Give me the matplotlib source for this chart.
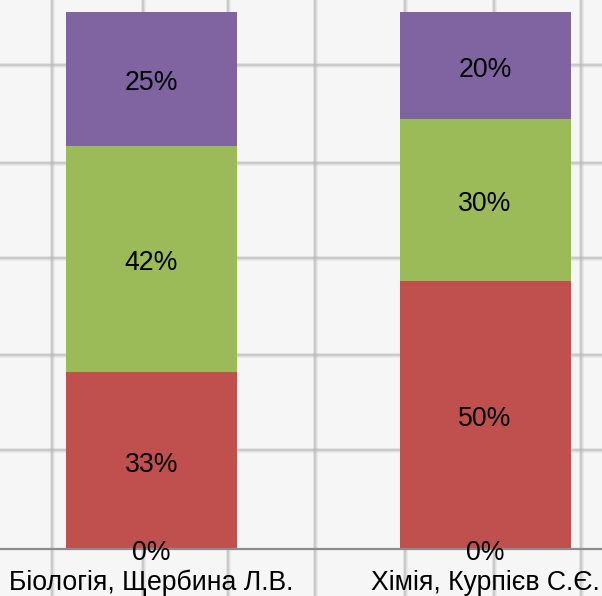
import matplotlib
matplotlib.use("Agg")
import matplotlib.pyplot as plt
from matplotlib.lines import Line2D
import numpy as np

categories = ["Біологія, Щербина Л.В.", "Хімія, Курпієв С.Є."]
series_zero = [0, 0]
series_red = [33, 50]
series_green = [42, 30]
series_purple = [25, 20]

colors = ["#c0504d", "#c0504d", "#9bbb59", "#8064a2"]

W, H = 602, 596
fig = plt.figure(figsize=(W / 100, H / 100), dpi=100)
fig.patch.set_facecolor("#f6f6f6")

# background page grid (decoration)
def px_x(x):
    return x / W

def px_y(y):
    return 1 - y / H

for gx in [52, 143, 228, 315, 405, 494, 581]:
    for lw, a in [(4.5, 0.25), (2.5, 0.6)]:
        fig.add_artist(Line2D([px_x(gx), px_x(gx)], [0, 1], transform=fig.transFigure,
                              color="#b8b8b8", lw=lw * 0.72, alpha=a, zorder=0))
for gy in [65, 163, 258, 355, 450]:
    for lw, a in [(4.5, 0.25), (2.5, 0.6)]:
        fig.add_artist(Line2D([0, 1], [px_y(gy), px_y(gy)], transform=fig.transFigure,
                              color="#b8b8b8", lw=lw * 0.72, alpha=a, zorder=0))

left_px, right_px = 0, 602
c0, c1 = 151.5, 485.0
unit = c1 - c0
bottom_px, top_px = 549, 12
ax = fig.add_axes([0, 1 - bottom_px / H, 1, (bottom_px - top_px) / H])
ax.set_facecolor("none")
ax.set_xlim(-(c0 - left_px) / unit, (right_px - c0) / unit)
ax.set_ylim(0, 100)

x = np.arange(len(categories))
width = 171 / unit
stack = [series_zero, series_red, series_green, series_purple]
bottom = np.zeros(len(categories))
font = "Liberation Sans"
fs = 19.2
for i, vals in enumerate(stack):
    vals = np.array(vals, dtype=float)
    ax.bar(x, vals, width, bottom=bottom, color=colors[i], edgecolor="none", zorder=2)
    for xi, v, b in zip(x, vals, bottom):
        yc = b + v / 2
        dy = -3
        if v == 0:
            yc = 0
            dy = -3
        ax.annotate(f"{int(v)}%", (xi, yc), xytext=(0, dy), textcoords="offset points",
                    ha="center", va="center", fontsize=fs,
                    family=font, color="black", zorder=3, annotation_clip=False)
    bottom += vals

for s in ["top", "right", "left"]:
    ax.spines[s].set_visible(False)
ax.spines["bottom"].set_color("#8c8c8c")
ax.spines["bottom"].set_linewidth(1.6)
ax.set_yticks([])
ax.set_xticks(x)
ax.set_xticklabels(categories, fontsize=fs, family=font)
ax.tick_params(axis="x", length=0, pad=15)

fig.savefig("out.png", dpi=100, facecolor=fig.get_facecolor())
